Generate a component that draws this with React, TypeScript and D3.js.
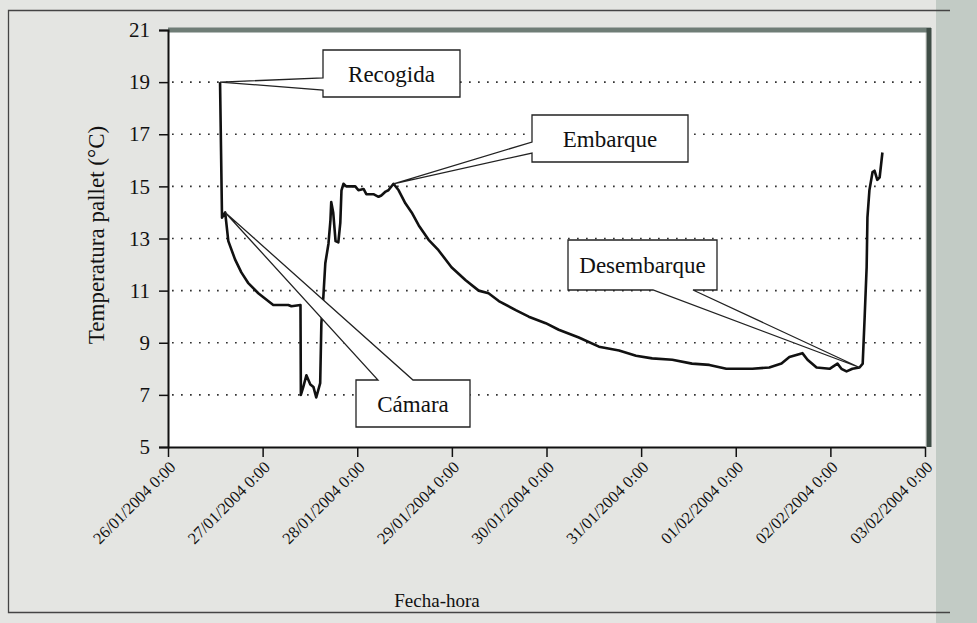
import React, { useEffect, useRef } from "react";
import * as d3 from "d3";

// hours since 26/01/2004 0:00 and pallet temperature (°C)
const hours = [
  13.2, 13.7, 14.5, 15.3, 17.0, 18.6, 20.3, 22.9, 25.4, 26.7, 30.5, 31.3, 33.6,
  33.7, 34.3, 35.1, 36.1, 36.9, 37.6, 38.6, 38.9, 39.4, 39.9, 40.7, 41.2, 41.4,
  41.9, 42.5, 43.2, 43.7, 44.0, 44.5, 45.2, 46.3, 47.5, 48.3, 49.6, 50.3, 52.1,
  53.4, 54.1, 55.2, 55.9, 57.2, 58.5, 60.2, 61.8, 63.6, 66.1, 68.6, 71.9, 75.5,
  78.8, 81.3, 83.9, 88.2, 91.5, 95.8, 99.1, 104.2, 109.3, 114.4, 118.7, 122.8,
  127.9, 132.9, 137.3, 141.6, 148.2, 152.5, 155.6, 157.6, 160.9, 162.2, 164.5,
  167.8, 169.8, 170.8, 172.1, 173.6, 175.4, 176.2, 176.7, 177.2, 177.4, 177.9,
  178.7, 179.2, 179.9, 180.5, 181.2,
];
const temps = [
  19.0, 13.8, 14.0, 12.9, 12.2, 11.7, 11.3, 10.9, 10.6, 10.45, 10.45, 10.4, 10.45,
  7.0, 7.3, 7.75, 7.4, 7.3, 6.9, 7.45, 9.75, 10.75, 12.05, 12.8, 13.7, 14.4,
  14.0, 12.9, 12.85, 13.6, 14.85, 15.1, 15.0, 15.0, 15.0, 14.85, 14.9, 14.7, 14.7,
  14.6, 14.65, 14.8, 14.85, 15.1, 14.85, 14.35, 14.0, 13.5, 12.95, 12.55, 11.9, 11.4,
  11.0, 10.9, 10.6, 10.25, 10.0, 9.75, 9.5, 9.2, 8.85, 8.7, 8.5, 8.4,
  8.35, 8.2, 8.15, 8.0, 8.0, 8.05, 8.2, 8.45, 8.6, 8.35, 8.05,
  8.0, 8.2, 8.0, 7.9, 8.0, 8.05, 8.2, 10.0, 11.9, 13.8, 14.85,
  15.55, 15.6, 15.25, 15.35, 16.3,
];
const yTicks = [5, 7, 9, 11, 13, 15, 17, 19, 21];
const gridValues = [7, 9, 11, 13, 15, 17, 19];

// callout labels and the data index each one points at
const calloutLabels = ["Recogida", "Cámara", "Embarque", "Desembarque"];
const calloutIndex = [0, 2, 43, 80];

const start = new Date(2004, 0, 26);
const end = new Date(2004, 1, 3);

export default function App() {
  const ref = useRef<SVGSVGElement>(null);

  useEffect(() => {
    const svg = d3.select(ref.current);
    svg.selectAll("*").remove();

    const W = 977,
      H = 623;
    const left = 168,
      right = 925,
      top = 30,
      bottom = 447;

    const x = d3.scaleTime().domain([start, end]).range([left, right]);
    const y = d3.scaleLinear().domain([5, 21]).range([bottom, top]);
    const font = "'Liberation Serif', 'DejaVu Serif', serif";

    const data = hours.map((h, i) => ({
      t: new Date(start.getTime() + h * 3600 * 1000),
      v: temps[i],
    }));

    // page background
    svg.append("rect").attr("width", W).attr("height", H).attr("fill", "#e4e5e2");
    svg.append("rect").attr("x", 936).attr("y", 0).attr("width", 41).attr("height", H).attr("fill", "#c2cbc5");
    svg
      .append("path")
      .attr("d", "M950,10.5H8.5V612.5H950")
      .attr("fill", "none")
      .attr("stroke", "#444")
      .attr("stroke-width", 1.3);

    // plot area
    svg
      .append("rect")
      .attr("x", left)
      .attr("y", top)
      .attr("width", right - left)
      .attr("height", bottom - top)
      .attr("fill", "#ffffff");

    svg
      .append("g")
      .selectAll("line")
      .data(gridValues)
      .enter()
      .append("line")
      .attr("x1", left + 4)
      .attr("x2", right - 2)
      .attr("y1", (d) => y(d))
      .attr("y2", (d) => y(d))
      .attr("stroke", "#333")
      .attr("stroke-width", 1.7)
      .attr("stroke-dasharray", "1.7,7.3");

    // frame: thick grey top, dark right
    svg
      .append("line")
      .attr("x1", left)
      .attr("x2", right + 6)
      .attr("y1", top)
      .attr("y2", top)
      .attr("stroke", "#6f7d76")
      .attr("stroke-width", 5);
    svg
      .append("line")
      .attr("x1", right + 4)
      .attr("x2", right + 4)
      .attr("y1", top - 2)
      .attr("y2", bottom)
      .attr("stroke", "#3f4d46")
      .attr("stroke-width", 5);

    // line
    const line = d3
      .line<{ t: Date; v: number }>()
      .x((d) => x(d.t))
      .y((d) => y(d.v));
    svg
      .append("path")
      .datum(data)
      .attr("d", line)
      .attr("fill", "none")
      .attr("stroke", "#111")
      .attr("stroke-width", 2.6)
      .attr("stroke-linejoin", "round");

    // callouts (box + pointer as one shape)
    const boxes = [
      { x0: 323, y0: 50, x1: 460, y1: 97, side: "left", a: 78, b: 90 },
      { x0: 356, y0: 380, x1: 470, y1: 427, side: "top", a: 378, b: 413 },
      { x0: 532, y0: 115, x1: 688, y1: 162, side: "left", a: 142, b: 153 },
      { x0: 568, y0: 240, x1: 717, y1: 290, side: "bottom", a: 653, b: 693 },
    ];
    boxes.forEach((b, i) => {
      const d = data[calloutIndex[i]];
      const tx = x(d.t),
        ty = y(d.v);
      let p = "";
      if (b.side === "left") {
        p = `M${b.x0},${b.y0}H${b.x1}V${b.y1}H${b.x0}V${b.b}L${tx},${ty}L${b.x0},${b.a}Z`;
      } else if (b.side === "top") {
        p = `M${b.x0},${b.y0}H${b.a}L${tx},${ty}L${b.b},${b.y0}H${b.x1}V${b.y1}H${b.x0}Z`;
      } else {
        p = `M${b.x0},${b.y0}H${b.x1}V${b.y1}H${b.b}L${tx},${ty}L${b.a},${b.y1}H${b.x0}Z`;
      }
      svg
        .append("path")
        .attr("d", p)
        .attr("fill", "#ffffff")
        .attr("stroke", "#222")
        .attr("stroke-width", 1.3)
        .attr("stroke-linejoin", "miter");
      svg
        .append("text")
        .attr("x", (b.x0 + b.x1) / 2)
        .attr("y", (b.y0 + b.y1) / 2 + 8)
        .attr("text-anchor", "middle")
        .attr("font-family", font)
        .attr("font-size", 23)
        .attr("fill", "#111")
        .text(calloutLabels[i]);
    });

    // axes
    const yAxis = svg
      .append("g")
      .attr("transform", `translate(${left},0)`)
      .call(d3.axisLeft(y).tickValues(yTicks).tickSize(9).tickPadding(9).tickFormat(d3.format("d")));
    yAxis.select(".domain").attr("stroke", "#111").attr("stroke-width", 2);
    yAxis.selectAll(".tick line").attr("stroke", "#111").attr("stroke-width", 1.5);
    yAxis
      .selectAll(".tick text")
      .attr("font-family", font)
      .attr("font-size", 21)
      .attr("fill", "#111");

    const xAxis = svg
      .append("g")
      .attr("transform", `translate(0,${bottom})`)
      .call(
        d3
          .axisBottom(x)
          .ticks(d3.timeDay.every(1))
          .tickSize(10)
          .tickSizeOuter(0)
          .tickFormat((d) => d3.timeFormat("%d/%m/%Y %-H:%M")(d as Date))
      );
    xAxis.select(".domain").attr("stroke", "#111").attr("stroke-width", 2);
    xAxis.selectAll(".tick line").attr("stroke", "#111").attr("stroke-width", 1.5);
    xAxis
      .selectAll(".tick text")
      .attr("font-family", font)
      .attr("font-size", 16.5)
      .attr("fill", "#111")
      .attr("text-anchor", "end")
      .attr("y", 0)
      .attr("dy", "0.35em")
      .attr("transform", "translate(4,17) rotate(-45)");

    svg
      .append("text")
      .attr("transform", `translate(104,235) rotate(-90)`)
      .attr("text-anchor", "middle")
      .attr("font-family", font)
      .attr("font-size", 23)
      .attr("fill", "#111")
      .text("Temperatura pallet (°C)");

    svg
      .append("text")
      .attr("x", 437)
      .attr("y", 607)
      .attr("text-anchor", "middle")
      .attr("font-family", font)
      .attr("font-size", 19)
      .attr("fill", "#111")
      .text("Fecha-hora");
  }, []);

  return (
    <div style={{ position: "absolute", left: 0, top: 0 }}>
      <svg ref={ref} width={977} height={623} style={{ display: "block" }} />
    </div>
  );
}
